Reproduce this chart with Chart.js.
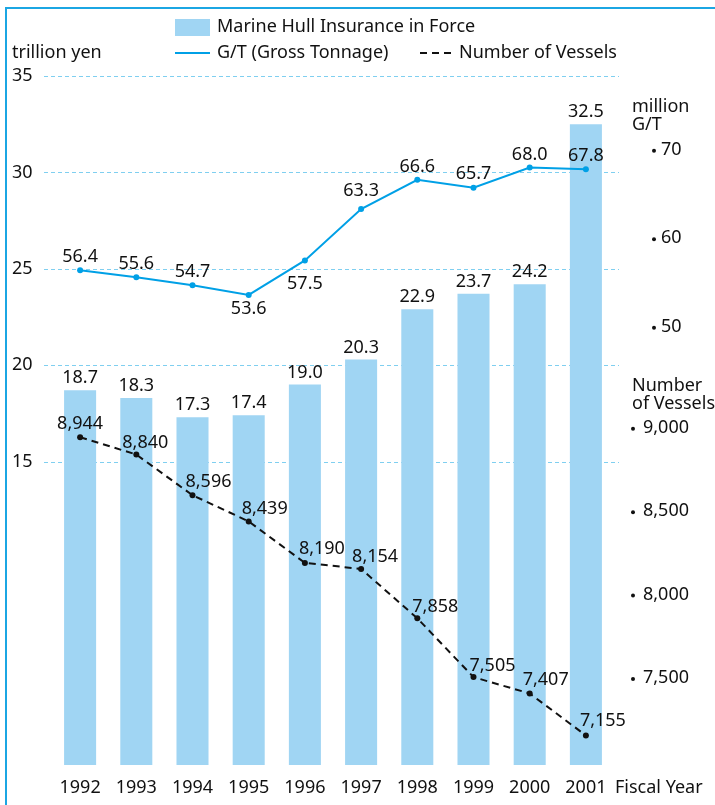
<!DOCTYPE html>
<html>
<head>
<meta charset="utf-8">
<script src="https://cdn.jsdelivr.net/npm/chart.js@4/dist/chart.umd.min.js"></script>
<style>
  html, body { margin: 0; padding: 0; background: #fff; }
  canvas { display: block; }
</style>
</head>
<body>
<canvas id="myChart" width="715" height="805"></canvas>
<script>
const years = ['1992','1993','1994','1995','1996','1997','1998','1999','2000','2001'];
const insurance = [18.7, 18.3, 17.3, 17.4, 19.0, 20.3, 22.9, 23.7, 24.2, 32.5]; // trillion yen
const tonnage = [56.4, 55.6, 54.7, 53.6, 57.5, 63.3, 66.6, 65.7, 68.0, 67.8]; // million G/T
const vessels = [8944, 8840, 8596, 8439, 8190, 8154, 7858, 7505, 7407, 7155];

const leftTicks = [15, 20, 25, 30, 35];
const gtTicks = [50, 60, 70];
const vesselTicks = [7500, 8000, 8500, 9000];

const FONT = '18px "Noto Sans", "Open Sans", sans-serif';
const BLUE = '#00a0e6';
const BAR = '#a0d5f3';
const GRID = '#7fcff0';

// label placement (pixels from the point)
const gtLabelDy = [-13, -13, -13, 14, 23, -18, -13, -14, -13, -13];
const vesLabelDx = [0, 9, 16, 16, 17, 14, 18, 19, 16, 17];
const vesLabelDy = [-13, -12, -13, -13, -14, -12, -11, -11, -14, -15];

function fmt(n){
    return n.toLocaleString('en-US');
}

const decor = {
    id: 'decor',
    beforeDatasetsDraw(chart){
        const ctx = chart.ctx;
        const y = chart.scales.y;
        ctx.save();
        ctx.strokeStyle = GRID;
        ctx.lineWidth = 1;
        ctx.setLineDash([4, 3]);
        leftTicks.forEach(t => {
            const py = Math.round(y.getPixelForValue(t)) + 0.5;
            ctx.beginPath();
            ctx.moveTo(44, py);
            ctx.lineTo(619, py);
            ctx.stroke();
        });
        ctx.restore();
    },
    afterDraw(chart){
        const ctx = chart.ctx;
        const x = chart.scales.x;
        const y = chart.scales.y;
        const gt = chart.scales.gt;
        const ves = chart.scales.ves;
        ctx.save();

        // frame
        ctx.fillStyle = '#1ba6e3';
        ctx.fillRect(5, 7, 710, 2);
        ctx.fillRect(5, 7, 2, 798);

        ctx.font = FONT;
        ctx.fillStyle = '#111';
        ctx.textBaseline = 'middle';

        // left ticks
        ctx.textAlign = 'left';
        leftTicks.forEach(t => ctx.fillText(String(t), 12, y.getPixelForValue(t)));
        ctx.fillText('trillion yen', 12, 53);

        // right titles and ticks
        ctx.fillText('million', 632, 107);
        ctx.fillText('G/T', 632, 125);
        gtTicks.forEach(t => {
            const py = gt.getPixelForValue(t);
            ctx.beginPath();
            ctx.arc(654, py + 1, 2, 0, Math.PI * 2);
            ctx.fill();
            ctx.fillText(String(t), 661, py);
        });
        ctx.fillText('Number', 632, 386);
        ctx.fillText('of Vessels', 632, 404);
        vesselTicks.forEach(t => {
            const py = ves.getPixelForValue(t);
            ctx.beginPath();
            ctx.arc(633, py + 1, 2, 0, Math.PI * 2);
            ctx.fill();
            ctx.fillText(fmt(t), 643, py);
        });

        // category labels
        ctx.textAlign = 'center';
        years.forEach((yr, i) => ctx.fillText(yr, x.getPixelForValue(i), 788));
        ctx.textAlign = 'left';
        ctx.fillText('Fiscal Year', 615, 788);

        // value labels
        ctx.textAlign = 'center';
        insurance.forEach((v, i) => {
            ctx.fillText(v.toFixed(1), x.getPixelForValue(i), y.getPixelForValue(v) - 12);
        });
        tonnage.forEach((v, i) => {
            ctx.fillText(v.toFixed(1), x.getPixelForValue(i), gt.getPixelForValue(v) + gtLabelDy[i]);
        });
        vessels.forEach((v, i) => {
            ctx.fillText(fmt(v), x.getPixelForValue(i) + vesLabelDx[i], ves.getPixelForValue(v) + vesLabelDy[i]);
        });

        // legend
        ctx.textAlign = 'left';
        ctx.fillStyle = BAR;
        ctx.fillRect(175, 19, 35, 17);
        ctx.fillStyle = '#111';
        ctx.fillText('Marine Hull Insurance in Force', 217, 27);
        ctx.strokeStyle = BLUE;
        ctx.lineWidth = 2;
        ctx.beginPath();
        ctx.moveTo(175, 53);
        ctx.lineTo(210, 53);
        ctx.stroke();
        ctx.fillText('G/T (Gross Tonnage)', 217, 53);
        ctx.strokeStyle = '#111';
        ctx.setLineDash([7, 5]);
        ctx.beginPath();
        ctx.moveTo(420, 53);
        ctx.lineTo(452, 53);
        ctx.stroke();
        ctx.setLineDash([]);
        ctx.fillText('Number of Vessels', 459, 53);

        ctx.restore();
    }
};

new Chart(document.getElementById('myChart').getContext('2d'), {
    data: {
        labels: years,
        datasets: [
            {
                type: 'bar',
                label: 'Marine Hull Insurance in Force',
                data: insurance,
                yAxisID: 'y',
                base: -0.74,
                backgroundColor: BAR,
                barPercentage: 0.57,
                categoryPercentage: 1,
                order: 3
            },
            {
                type: 'line',
                label: 'G/T (Gross Tonnage)',
                data: tonnage,
                yAxisID: 'gt',
                borderColor: BLUE,
                backgroundColor: BLUE,
                borderWidth: 2,
                pointRadius: 3,
                pointBorderWidth: 0,
                tension: 0,
                order: 1
            },
            {
                type: 'line',
                label: 'Number of Vessels',
                data: vessels,
                yAxisID: 'ves',
                borderColor: '#111',
                backgroundColor: '#111',
                borderWidth: 2,
                borderDash: [7, 5],
                pointRadius: 3,
                pointBorderWidth: 0,
                tension: 0,
                order: 2
            }
        ]
    },
    options: {
        responsive: false,
        animation: false,
        devicePixelRatio: 1,
        layout: { padding: { left: 52, right: 101, top: 76, bottom: 40 } },
        plugins: { legend: { display: false }, tooltip: { enabled: false } },
        scales: {
            x: { type: 'category', display: false, offset: true },
            y: { type: 'linear', display: false, min: -0.74, max: 35 },
            gt: { type: 'linear', display: false, min: 0.5, max: 78.33 },
            ves: { type: 'linear', display: false, min: 6978, max: 11110 }
        }
    },
    plugins: [decor]
});
</script>
</body>
</html>
